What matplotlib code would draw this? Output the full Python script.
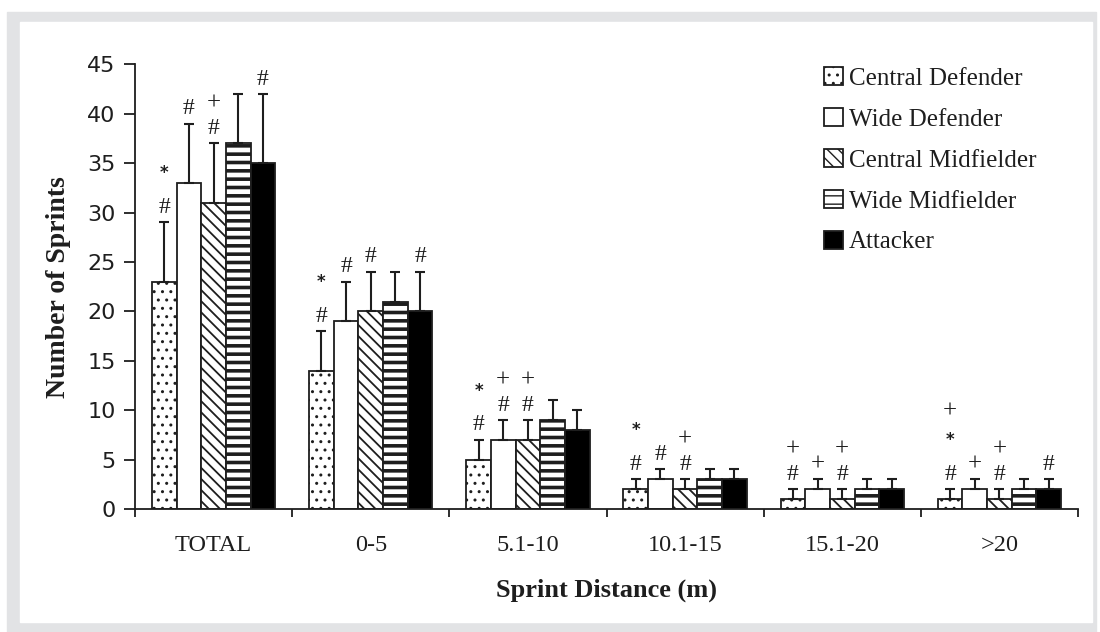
import matplotlib
matplotlib.use("Agg")
import matplotlib.pyplot as plt
from matplotlib.patches import Rectangle
import numpy as np

# categories and series
categories = ["TOTAL", "0-5", "5.1-10", "10.1-15", "15.1-20", ">20"]
positions = ["Central Defender", "Wide Defender", "Central Midfielder",
             "Wide Midfielder", "Attacker"]

central_def = [23, 14, 5, 2, 1, 1]
central_def_sd = [6, 4, 2, 1, 1, 1]
wide_def = [33, 19, 7, 3, 2, 2]
wide_def_sd = [6, 4, 2, 1, 1, 1]
central_mid = [31, 20, 7, 2, 1, 1]
central_mid_sd = [6, 4, 2, 1, 1, 1]
wide_mid = [37, 21, 9, 3, 2, 2]
wide_mid_sd = [5, 3, 2, 1, 1, 1]
attacker = [35, 20, 8, 3, 2, 2]
attacker_sd = [7, 4, 2, 1, 1, 1]

# significance marks per bar, stacked bottom -> top
marks_cd = ["#*", "#*", "#*", "#*", "#+", "#*+"]
marks_wd = ["#", "#", "#+", "#", "+", "+"]
marks_cm = ["#+", "#", "#+", "#+", "#+", "#+"]
marks_wm = ["", "", "", "", "", ""]
marks_at = ["#", "#", "", "", "", "#"]

series = [
    (central_def, central_def_sd, marks_cd, "white", "..", 1.0),
    (wide_def, wide_def_sd, marks_wd, "white", "", 1.0),
    (central_mid, central_mid_sd, marks_cm, "white", "\\\\\\", 1.3),
    (wide_mid, wide_mid_sd, marks_wm, "white", "--", 2.6),
    (attacker, attacker_sd, marks_at, "black", "", 1.0),
]

ink = "#1e1e1e"
plt.rcParams["font.family"] = ["Liberation Serif", "DejaVu Serif"]

fig = plt.figure(figsize=(11, 6.32), dpi=100)

# light gray frame around the panel
W, H = 1100, 632
fig.patches.append(Rectangle((7 / W, 0), (1096 - 7) / W, (632 - 12) / H,
                             transform=fig.transFigure, color="#e2e3e5", zorder=-3))
fig.patches.append(Rectangle((20 / W, 10 / H), (1092 - 20) / W, (610 - 10) / H,
                             transform=fig.transFigure, color="white", zorder=-2))

ax = fig.add_axes([135 / W, 1 - 509 / H, (1078 - 135) / W, (509 - 64.4) / H])
ax.set_facecolor("none")

x = np.arange(len(categories)) + 0.5
bw = 0.157
step = {"#": 24, "+": 25, "*": 38}

for j, (vals, sds, marks, fc, hatch, hlw) in enumerate(series):
    plt.rcParams["hatch.linewidth"] = hlw
    xs = x + (j - 2) * bw
    bars = ax.bar(xs, vals, bw, color=fc, edgecolor=ink, hatch=hatch,
                  linewidth=1.3, label=positions[j], zorder=2)
    for b in bars:
        if hasattr(b, "set_hatch_linewidth"):
            b.set_hatch_linewidth(hlw)
    ax.errorbar(xs, vals, yerr=[np.zeros(len(vals)), sds], fmt="none",
                ecolor=ink, elinewidth=1.5, capsize=3.8, capthick=1.5, zorder=3)
    for xi, v, s, m in zip(xs, vals, sds, marks):
        off = 15
        for k, ch in enumerate(m):
            if k > 0:
                off += step[ch]
            if ch == "*":
                ax.annotate("*", (xi, v + s), xytext=(0, off - 4),
                            textcoords="offset pixels", ha="center", va="center",
                            fontsize=12, fontweight="bold", color=ink,
                            family="DejaVu Sans")
            else:
                ax.annotate(ch, (xi, v + s), xytext=(0, off),
                            textcoords="offset pixels", ha="center", va="center",
                            fontsize=18 if ch == "+" else 17, color=ink)

ax.set_xlim(0, 6)
ax.set_ylim(0, 45)
ax.set_yticks(np.arange(0, 46, 5))
ax.set_xticks(np.arange(0, 7))
ax.set_xticklabels([])
ax.set_xticks(x, minor=True)
ax.set_xticklabels(categories, minor=True)
ax.tick_params(axis="x", which="minor", length=0, pad=19, labelsize=17.5, colors=ink)
ax.tick_params(axis="x", which="major", length=6, width=1.3, color=ink)
ax.tick_params(axis="y", length=8, width=1.3, labelsize=16, color=ink,
               labelcolor=ink, pad=6)
for lab in ax.get_yticklabels():
    lab.set_family("DejaVu Sans")
for sp in ["top", "right"]:
    ax.spines[sp].set_visible(False)
for sp in ["left", "bottom"]:
    ax.spines[sp].set_linewidth(1.3)
    ax.spines[sp].set_color(ink)

ax.set_xlabel("Sprint Distance (m)", fontsize=19, fontweight="bold",
              color=ink, labelpad=16)
ax.set_ylabel("Number of Sprints", fontsize=20, fontweight="bold",
              color=ink, labelpad=12)

plt.rcParams["hatch.linewidth"] = 1.0
ax.legend(loc="upper left", bbox_to_anchor=(824 / W, 1 - 67 / H),
          bbox_transform=fig.transFigure, frameon=False, fontsize=18,
          handlelength=0.75, handleheight=0.75, handletextpad=0.25,
          labelspacing=0.72, borderpad=0, borderaxespad=0, labelcolor=ink)

fig.savefig("out.png", dpi=100)
